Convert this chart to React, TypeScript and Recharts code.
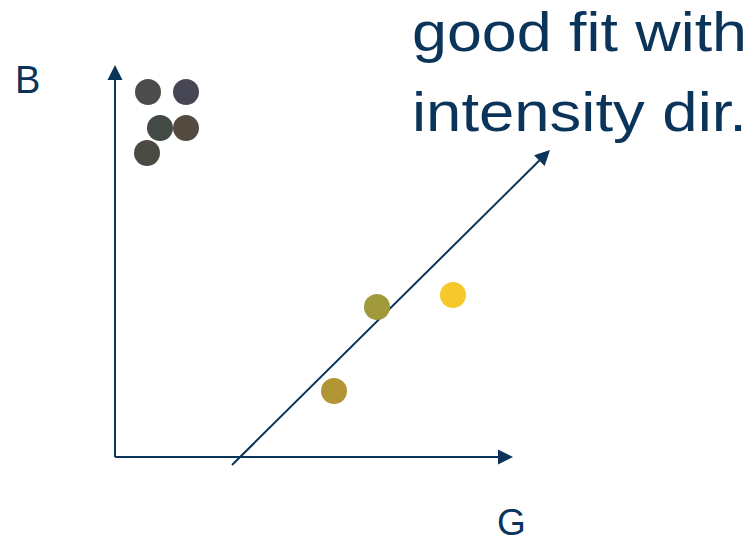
import { Cell, ReferenceLine, Scatter, ScatterChart, XAxis, YAxis } from "recharts"

// G / B values of the pixels (origin at the axes corner)
const gValues = [8.25, 17.75, 11.25, 17.75, 8, 65.5, 84.5, 54.75]
const bValues = [91.25, 91.25, 82.25, 82.25, 76, 37.5, 40.5, 16.5]
const pointColors = [
  "#4c4c4c",
  "#474654",
  "#434b46",
  "#554a40",
  "#4c4b43",
  "#a09a3d",
  "#f6c82b",
  "#b29534",
]

// arrow ends, same units
const gAxisEnd = 99.5
const bAxisEnd = 98
const dirStart = { g: 29.25, b: -2 }
const dirEnd = { g: 108.75, b: 76.75 }

const axisNames = ["G", "B"]
const titleLines = ["good fit with", "intensity dir."]

const INK = "#0a3459"

const points = gValues.map((g, i) => ({ g, b: bValues[i] }))

function Arrow(props: any) {
  const { x1, y1, x2, y2 } = props
  const a = Math.atan2(y2 - y1, x2 - x1)
  const len = 15
  const hw = 7.5
  const bx = x2 - len * Math.cos(a)
  const by = y2 - len * Math.sin(a)
  const px = -Math.sin(a) * hw
  const py = Math.cos(a) * hw
  return (
    <g>
      <line x1={x1} y1={y1} x2={bx} y2={by} stroke={INK} strokeWidth={2} />
      <polygon
        points={`${x2},${y2} ${bx + px},${by + py} ${bx - px},${by - py}`}
        fill={INK}
      />
    </g>
  )
}

function Dot(props: any) {
  return <circle cx={props.cx} cy={props.cy} r={13} fill={props.fill} />
}

export default function App() {
  return (
    <div style={{ position: "absolute", left: 0, top: 0, background: "#fff" }}>
      <ScatterChart
        width={754}
        height={543}
        margin={{ top: 0, right: 0, bottom: 0, left: 0 }}
      >
        <XAxis type="number" dataKey="g" domain={[-28.75, 159.75]} hide />
        <YAxis type="number" dataKey="b" domain={[-21.5, 114.25]} hide />
        <ReferenceLine
          segment={[
            { x: 0, y: 0 },
            { x: 0, y: bAxisEnd },
          ]}
          shape={Arrow}
          ifOverflow="visible"
        />
        <ReferenceLine
          segment={[
            { x: 0, y: 0 },
            { x: gAxisEnd, y: 0 },
          ]}
          shape={Arrow}
          ifOverflow="visible"
        />
        <Scatter data={points} shape={Dot} isAnimationActive={false}>
          {points.map((_, i) => (
            <Cell key={i} fill={pointColors[i]} />
          ))}
        </Scatter>
        <ReferenceLine
          segment={[
            { x: dirStart.g, y: dirStart.b },
            { x: dirEnd.g, y: dirEnd.b },
          ]}
          shape={Arrow}
          ifOverflow="visible"
        />
        <text
          x={15}
          y={93}
          fill={INK}
          fontSize={38}
          fontFamily="'Liberation Sans', Arial, sans-serif"
        >
          {axisNames[1]}
        </text>
        <text
          x={497}
          y={535}
          fill={INK}
          fontSize={37}
          fontFamily="'Liberation Sans', Arial, sans-serif"
        >
          {axisNames[0]}
        </text>
        {titleLines.map((line, i) => (
          <text
            key={line}
            x={412}
            y={51 + i * 80}
            fill={INK}
            fontSize={56}
            fontFamily="'Liberation Sans', Arial, sans-serif"
            textLength={335}
            lengthAdjust="spacingAndGlyphs"
          >
            {line}
          </text>
        ))}
      </ScatterChart>
    </div>
  )
}
